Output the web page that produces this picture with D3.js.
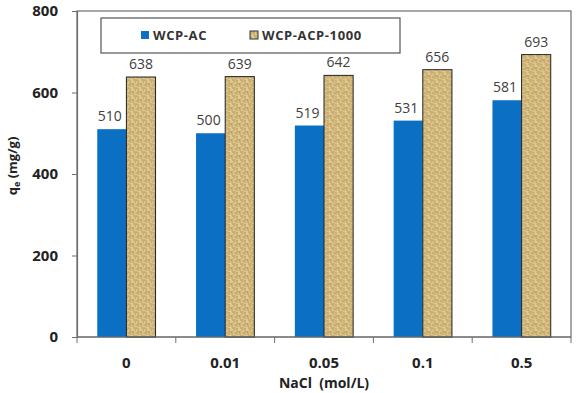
<!DOCTYPE html>
<html>
<head>
<meta charset="utf-8">
<script src="https://cdn.jsdelivr.net/npm/d3@7"></script>
<style>
  body { margin: 0; background: #fff; }
  text { font-family: "Open Sans", Lato, sans-serif; }
</style>
</head>
<body>
<div id="app"></div>
<script>
const OUTER = { width: 578, height: 393 }
const MARGIN = { top: 11, right: 7, bottom: 56, left: 77 }
const INNER = {
  width: OUTER.width - MARGIN.left - MARGIN.right,
  height: OUTER.height - MARGIN.top - MARGIN.bottom,
};

const categories = ["0", "0.01", "0.05", "0.1", "0.5"]
const series = ["WCP-AC", "WCP-ACP-1000"]
const wcpAC = [510, 500, 519, 531, 581]
const wcpACP = [638, 639, 642, 656, 693]
const yTicks = [0, 200, 400, 600, 800]

const BLUE = "#0b6fc4"

const rows = categories.map((c, i) => ({ cat: c, values: [wcpAC[i], wcpACP[i]] }))

const svg = d3.select('#app')
  .append('svg')
  .attr('width', OUTER.width)
  .attr('height', OUTER.height);

// burlap-ish weave pattern for the second series
const defs = svg.append('defs');
const pat = defs.append('pattern')
  .attr('id', 'weave')
  .attr('patternUnits', 'userSpaceOnUse')
  .attr('width', 8)
  .attr('height', 8);
pat.append('rect').attr('width', 8).attr('height', 8).attr('fill', '#e0c98e');
const weave = [
  [0, 1, 4, 1], [4, 0, 4, 4], [1, 5, 1, 8], [4, 5, 8, 5],
  [6, 2, 8, 2], [0, 3, 2, 3], [6, 6, 6, 8]
];
pat.selectAll('line').data(weave).join('line')
  .attr('x1', d => d[0]).attr('y1', d => d[1])
  .attr('x2', d => d[2]).attr('y2', d => d[3])
  .attr('stroke', '#9a7a3e')
  .attr('stroke-width', 0.9)
  .attr('stroke-opacity', 0.75);

const fills = [BLUE, 'url(#weave)']

const xScale = d3.scaleBand()
  .domain(categories)
  .range([0, INNER.width])
  .paddingInner(0.41)
  .paddingOuter(0.205)

const xSub = d3.scaleBand()
  .domain([0, 1])
  .range([0, xScale.bandwidth()])

const yScale = d3.scaleLinear()
  .domain([0, 800])
  .range([INNER.height, 0])

const chart = svg.append('g')
  .attr('transform', `translate(${MARGIN.left}, ${MARGIN.top})`);

// plot frame
chart.append('rect')
  .attr('width', INNER.width)
  .attr('height', INNER.height)
  .attr('fill', 'none')
  .attr('stroke', '#6e6e6e')
  .attr('stroke-width', 1.2);

const groups = chart.selectAll('.grp')
  .data(rows)
  .join('g')
  .attr('class', 'grp')
  .attr('transform', d => `translate(${xScale(d.cat)}, 0)`);

groups.selectAll('rect')
  .data(d => d.values)
  .join('rect')
  .attr('x', (d, i) => xSub(i))
  .attr('y', d => yScale(d))
  .attr('width', xSub.bandwidth())
  .attr('height', d => INNER.height - yScale(d))
  .attr('fill', (d, i) => fills[i])
  .attr('stroke', (d, i) => i === 1 ? '#222' : 'none')
  .attr('stroke-width', 1);

groups.selectAll('.val')
  .data(d => d.values)
  .join('text')
  .attr('class', 'val')
  .attr('x', (d, i) => xSub(i) + xSub.bandwidth() / 2 - (i === 0 ? 2 : 0))
  .attr('y', d => yScale(d) - 8)
  .attr('text-anchor', 'middle')
  .attr('font-size', 14)
  .attr('fill', '#404040')
  .text(d => d);

// y axis
const yAxis = chart.append('g')
  .call(d3.axisLeft(yScale).tickValues(yTicks).tickSize(5).tickPadding(14))
yAxis.select('.domain').attr('stroke', '#6e6e6e').attr('stroke-width', 1.2);
yAxis.selectAll('.tick line').attr('stroke', '#6e6e6e');
yAxis.selectAll('.tick text')
  .attr('font-size', 15).attr('font-weight', 'bold').attr('fill', '#222')
  .attr('font-family', '"Open Sans", sans-serif');

// x axis: ticks at category boundaries
const xAxis = chart.append('g')
  .attr('transform', `translate(0, ${INNER.height})`);
xAxis.append('line')
  .attr('x1', 0).attr('x2', INNER.width)
  .attr('stroke', '#6e6e6e').attr('stroke-width', 1.2);
const step = xScale.step();
xAxis.selectAll('.xt')
  .data(d3.range(categories.length + 1))
  .join('line')
  .attr('class', 'xt')
  .attr('x1', i => xScale(categories[0]) - xScale.paddingOuter() * step + i * step)
  .attr('x2', i => xScale(categories[0]) - xScale.paddingOuter() * step + i * step)
  .attr('y1', 0).attr('y2', 6)
  .attr('stroke', '#6e6e6e');
xAxis.selectAll('.xl')
  .data(categories)
  .join('text')
  .attr('class', 'xl')
  .attr('x', d => xScale(d) + xScale.bandwidth() / 2)
  .attr('y', 31)
  .attr('text-anchor', 'middle')
  .attr('font-size', 15).attr('font-weight', 'bold').attr('fill', '#222')
  .text(d => d);

// axis titles
svg.append('text')
  .attr('x', MARGIN.left + INNER.width / 2)
  .attr('y', 388)
  .attr('text-anchor', 'middle')
  .attr('font-size', 14).attr('font-weight', 'bold').attr('fill', '#222')
  .style('white-space', 'pre')
  .text('NaCl  (mol/L)');

const yt = svg.append('text')
  .attr('transform', 'translate(17, 166) rotate(-90)')
  .attr('text-anchor', 'middle')
  .attr('font-size', 13).attr('font-weight', 'bold').attr('fill', '#222');
yt.append('tspan').text('q');
yt.append('tspan').attr('font-size', 9).attr('dy', 3).text('e');
yt.append('tspan').attr('dy', -3).style('white-space', 'pre').text(' (mg/g)');

// legend
const legend = svg.append('g').attr('transform', 'translate(101, 18)');
legend.append('rect')
  .attr('width', 299).attr('height', 35)
  .attr('fill', '#fff').attr('stroke', '#555').attr('stroke-width', 1.2);
const legX = [40, 149];
const items = legend.selectAll('.li')
  .data(series)
  .join('g')
  .attr('class', 'li')
  .attr('transform', (d, i) => `translate(${legX[i]}, 13)`);
items.append('rect')
  .attr('width', 8).attr('height', 8)
  .attr('fill', (d, i) => fills[i])
  .attr('stroke', (d, i) => i === 1 ? '#333' : 'none');
items.append('text')
  .attr('x', 12).attr('y', 9)
  .attr('font-size', 13).attr('font-weight', 'bold').attr('fill', '#333')
  .attr('letter-spacing', 0.6)
  .text(d => d);
</script>
</body>
</html>
